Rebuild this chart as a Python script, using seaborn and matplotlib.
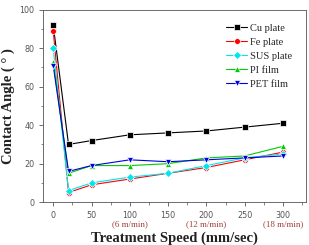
import pandas as pd
import matplotlib
matplotlib.use("Agg")
import matplotlib.pyplot as plt
import seaborn as sns
from matplotlib.ticker import MultipleLocator

speed = [0, 20, 50, 100, 150, 200, 250, 300]
cu_plate = [92, 30, 32, 35, 36, 37, 39, 41]
fe_plate = [89, 5, 9, 12, 15, 18, 22, 26]
sus_plate = [80, 6, 10, 13, 15, 19, 23, 25]
pi_film = [73, 15, 19, 19, 20, 23, 24, 29]
pet_film = [71, 16, 19, 22, 21, 22, 23, 24]

series = ["Cu plate", "Fe plate", "SUS plate", "PI film", "PET film"]
colors = ["#000000", "#ff0000", "#00e5ee", "#00cc00", "#0000dd"]
markers = ["s", "o", "D", "^", "v"]

speed_notes = {100: "(6 m/min)", 200: "(12 m/min)", 300: "(18 m/min)"}

rows = []
for name, vals in zip(series, [cu_plate, fe_plate, sus_plate, pi_film, pet_film]):
    for s, v in zip(speed, vals):
        rows.append({"speed": s, "angle": v, "sample": name})
df = pd.DataFrame(rows)

SERIF = "Liberation Serif"

sns.set_style("ticks")
fig, ax = plt.subplots(figsize=(3.09, 2.45), dpi=100)
fig.subplots_adjust(left=0.14, right=0.99, top=0.96, bottom=0.175)

sns.lineplot(data=df, x="speed", y="angle", hue="sample", style="sample",
             hue_order=series, style_order=series, palette=colors,
             markers=dict(zip(series, markers)), dashes=False,
             markersize=4.2, linewidth=0.8, markeredgewidth=0.5, ax=ax)

ax.set_xlim(-13, 330)
ax.set_ylim(0, 100)
ax.xaxis.set_major_locator(MultipleLocator(50))
ax.xaxis.set_minor_locator(MultipleLocator(25))
ax.yaxis.set_major_locator(MultipleLocator(20))
ax.yaxis.set_minor_locator(MultipleLocator(10))
ax.tick_params(which="both", direction="out", labelsize=5.8, colors="#555555",
               top=False, right=False)
ax.tick_params(which="major", length=3, width=0.6)
ax.tick_params(which="minor", length=1.8, width=0.5)
for sp in ax.spines.values():
    sp.set_linewidth(0.6)
    sp.set_color("#555555")

ax.set_xlabel("Treatment Speed (mm/sec)", family=SERIF, fontweight="bold",
              fontsize=10.5, color="#222222", labelpad=8)
ax.set_ylabel("Contact Angle ( ° )", family=SERIF, fontweight="bold",
              fontsize=10.5, color="#222222", labelpad=3)

for x, note in speed_notes.items():
    ax.annotate(note, xy=(x, 0), xycoords=("data", "axes fraction"),
                xytext=(0, -13), textcoords="offset points", ha="center",
                va="top", fontsize=6.5, family=SERIF, color="#a0403a")

leg = ax.legend(loc="upper right", frameon=False,
                handlelength=2.0, handletextpad=0.3, labelspacing=0.45,
                borderaxespad=0.9, prop={"family": SERIF, "size": 7.5})

plt.savefig("out.png", dpi=100)
